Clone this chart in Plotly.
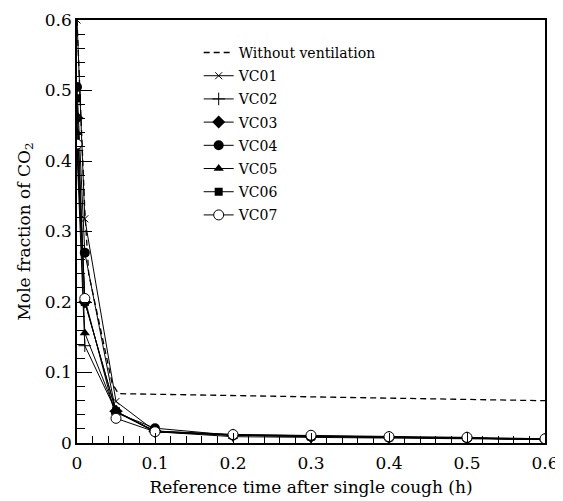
import plotly.graph_objects as go

# Times (h)
time = [0, 0.01, 0.05, 0.1, 0.2, 0.3, 0.4, 0.5, 0.6]
no_vent_time = [0, 0.01, 0.015, 0.045, 0.053, 0.6]
no_vent = [0.6, 0.33, 0.24, 0.085, 0.07, 0.06]

vc01 = [0.600, 0.318, 0.059, 0.017, 0.012, 0.010, 0.008, 0.007, 0.005]
vc02 = [0.415, 0.138, 0.045, 0.016, 0.011, 0.009, 0.008, 0.007, 0.005]
vc03 = [0.461, 0.200, 0.045, 0.017, 0.011, 0.009, 0.008, 0.007, 0.005]
vc04 = [0.505, 0.270, 0.043, 0.021, 0.011, 0.010, 0.008, 0.007, 0.005]
vc05 = [0.440, 0.156, 0.044, 0.016, 0.009, 0.008, 0.007, 0.006, 0.005]
vc06 = [0.489, 0.200, 0.045, 0.016, 0.011, 0.009, 0.008, 0.007, 0.005]
vc07 = [0.424, 0.205, 0.035, 0.016, 0.012, 0.011, 0.009, 0.008, 0.006]

series = [
    ("VC01", vc01, dict(symbol="x-thin", size=7, color="black", line=dict(width=1, color="black"))),
    ("VC02", vc02, dict(symbol="cross-thin", size=9, color="black", line=dict(width=1, color="black"))),
    ("VC03", vc03, dict(symbol="diamond", size=10, color="black")),
    ("VC04", vc04, dict(symbol="circle", size=10, color="black")),
    ("VC05", vc05, dict(symbol="triangle-up", size=9, color="black")),
    ("VC06", vc06, dict(symbol="square", size=8, color="black")),
    ("VC07", vc07, dict(symbol="circle", size=10, color="white", line=dict(width=1, color="black"))),
]

FONT = "DejaVu Serif"

fig = go.Figure()
fig.add_trace(go.Scatter(
    x=no_vent_time, y=no_vent, mode="lines", name="Without ventilation",
    line=dict(color="black", width=1.3, dash="6px,4px"), legendgroup="nv"))
for name, vals, mk in series:
    fig.add_trace(go.Scatter(
        x=time, y=vals, mode="lines+markers", name=name,
        line=dict(color="black", width=1), marker=mk, legendgroup=name))

axis_common = dict(
    showline=True, linecolor="black", linewidth=1.5, mirror=True,
    showgrid=False, zeroline=False, ticks="inside", tickcolor="black",
    tickfont=dict(family=FONT, size=17, color="black"),
    range=[0, 0.6], dtick=0.1, automargin=False,
)
fig.update_xaxes(**axis_common, ticklen=10, tickwidth=1, ticklabelstandoff=4,
                 minor=dict(dtick=0.02, ticks="inside", ticklen=7, tickcolor="black"),
                 title=dict(text="Reference time after single cough (h)",
                            font=dict(family=FONT, size=17, color="black"), standoff=9))
fig.update_yaxes(**axis_common, ticklen=15, tickwidth=1,
                 minor=dict(dtick=0.02, ticks="inside", ticklen=8, tickcolor="black"),
                 title=dict(text="Mole fraction of CO<sub>2</sub>",
                            font=dict(family=FONT, size=17, color="black"), standoff=10))

fig.update_layout(
    width=555, height=493,
    margin=dict(l=69, r=18, t=12, b=58),
    plot_bgcolor="white", paper_bgcolor="white",
    legend=dict(x=0.26, y=0.96, xanchor="left", yanchor="top",
                bgcolor="rgba(0,0,0,0)", tracegroupgap=2,
                font=dict(family=FONT, size=14, color="black")),
    font=dict(family=FONT, color="black"),
)

fig.write_html("out.html")
